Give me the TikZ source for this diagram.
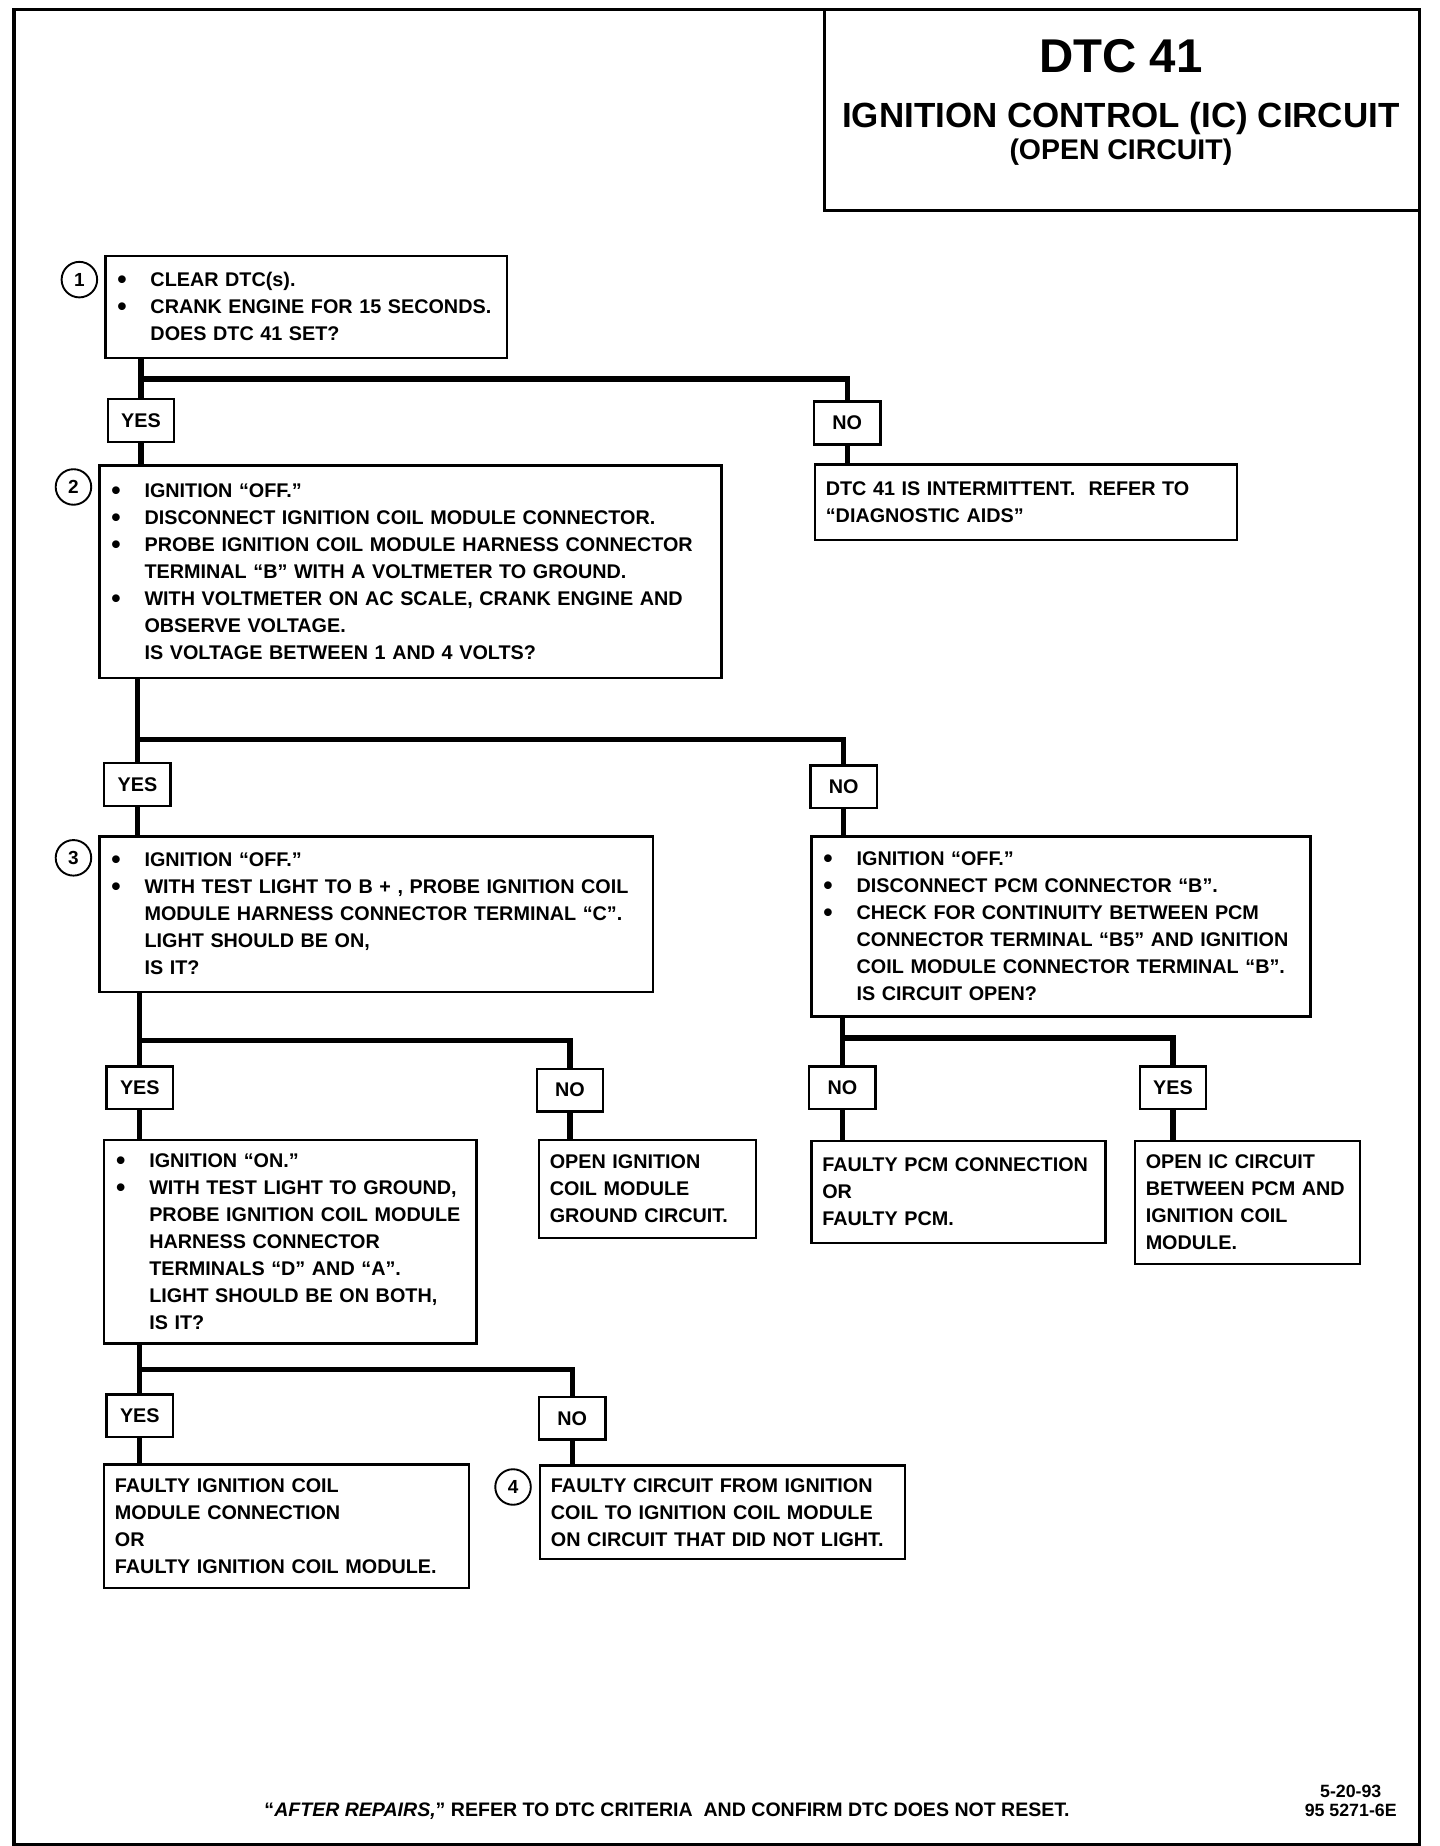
\documentclass[tikz,border=0pt]{standalone}
\usepackage{graphicx}
\usepackage{fontspec}
\setmainfont{Liberation Sans}
\newcommand\bodyfont{\fontsize{16.7}{22.8}\selectfont\bfseries}
\newcommand\bigbul{\raisebox{-0.08em}{\scalebox{1.35}{\textbullet}}}
\newcommand\bitem[1]{\mbox{\hspace*{1pt}\makebox[28pt][l]{\bigbul}#1}}
\newcommand\citem[1]{\mbox{\hspace*{29pt}#1}}
\newcommand\pl[1]{\mbox{#1}}
\begin{document}
\begin{tikzpicture}[x=1pt,y=-1pt,
  box/.style={draw, line width=2pt, anchor=north west, inner xsep=9pt, inner ysep=0pt, outer sep=0pt, align=left, font=\bodyfont},
  yn/.style={draw, line width=2pt, minimum width=56pt, minimum height=36pt, inner sep=0pt, outer sep=0pt, font=\bodyfont},
  num/.style={draw, circle, line width=1.6pt, minimum size=30pt, inner sep=0pt, font=\fontsize{16}{16}\selectfont\bfseries},
  conn/.style={line width=4.5pt, line join=miter}]
\useasboundingbox (0,0) rectangle (1215,1558);
% frame and title
\draw[line width=3pt] (12,8) rectangle (1198,1557);
\node[draw, line width=2.5pt, anchor=north west, minimum width=502pt, minimum height=170pt, inner sep=0pt, outer sep=0pt] (tbox) at (696,8) {};
\node[font=\fontsize{40}{40}\selectfont\bfseries] (t1) at (946,47) {DTC 41};
\node[font=\fontsize{29.5}{30}\selectfont\bfseries] (t2) at (946,100) {IGNITION CONTROL (IC) CIRCUIT};
\node[font=\fontsize{24}{24}\selectfont\bfseries] (t3) at (946,128) {(OPEN CIRCUIT)};
% boxes
\node[box, text width=321pt, minimum height=86pt] (box1) at (89,216) {\bitem{CLEAR DTC(s).}\\\bitem{CRANK ENGINE FOR 15 SECONDS.}\\\citem{DOES DTC 41 SET?}};
\node[box, text width=507pt, minimum height=179pt] (box2) at (84,393) {\bitem{IGNITION “OFF.”}\\\bitem{DISCONNECT IGNITION COIL MODULE CONNECTOR.}\\\bitem{PROBE IGNITION COIL MODULE HARNESS CONNECTOR}\\\citem{TERMINAL “B” WITH A VOLTMETER TO GROUND.}\\\bitem{WITH VOLTMETER ON AC SCALE, CRANK ENGINE AND}\\\citem{OBSERVE VOLTAGE.}\\\citem{IS VOLTAGE BETWEEN 1 AND 4 VOLTS?}};
\node[box, text width=338pt, minimum height=64pt] (boxi) at (688,392) {\pl{DTC 41 IS INTERMITTENT.\ \ REFER TO}\\\pl{“DIAGNOSTIC AIDS”}};
\node[box, text width=449pt, minimum height=131pt] (box3) at (84,706) {\bitem{IGNITION “OFF.”}\\\bitem{WITH TEST LIGHT TO B + , PROBE IGNITION COIL}\\\citem{MODULE HARNESS CONNECTOR TERMINAL “C”.}\\\citem{LIGHT SHOULD BE ON,}\\\citem{IS IT?}};
\node[box, text width=403pt, minimum height=152pt] (boxp) at (685,706) {\bitem{IGNITION “OFF.”}\\\bitem{DISCONNECT PCM CONNECTOR “B”.}\\\bitem{CHECK FOR CONTINUITY BETWEEN PCM}\\\citem{CONNECTOR TERMINAL “B5” AND IGNITION}\\\citem{COIL MODULE CONNECTOR TERMINAL “B”.}\\\citem{IS CIRCUIT OPEN?}};
\node[box, text width=296pt, minimum height=172pt] (box4) at (88,962) {\bitem{IGNITION “ON.”}\\\bitem{WITH TEST LIGHT TO GROUND,}\\\citem{PROBE IGNITION COIL MODULE}\\\citem{HARNESS CONNECTOR}\\\citem{TERMINALS “D” AND “A”.}\\\citem{LIGHT SHOULD BE ON BOTH,}\\\citem{IS IT?}};
\node[box, text width=165pt, minimum height=83pt] (boxg) at (455,962) {\pl{OPEN IGNITION}\\\pl{COIL MODULE}\\\pl{GROUND CIRCUIT.}};
\node[box, text width=230pt, minimum height=86pt] (boxf) at (685,963) {\pl{FAULTY PCM CONNECTION}\\\pl{OR}\\\pl{FAULTY PCM.}};
\node[box, text width=172pt, minimum height=104pt] (boxo) at (958,963) {\pl{OPEN IC CIRCUIT}\\\pl{BETWEEN PCM AND}\\\pl{IGNITION COIL}\\\pl{MODULE.}};
\node[box, text width=290pt, minimum height=104pt] (box5) at (88,1236) {\pl{FAULTY IGNITION COIL}\\\pl{MODULE CONNECTION}\\\pl{OR}\\\pl{FAULTY IGNITION COIL MODULE.}};
\node[box, text width=290pt, minimum height=79pt] (box6) at (456,1237) {\pl{FAULTY CIRCUIT FROM IGNITION}\\\pl{COIL TO IGNITION COIL MODULE}\\\pl{ON CIRCUIT THAT DID NOT LIGHT.}};
% step numbers
\node[num] (c1) at (67,236) {1};
\node[num] (c2) at (62,411) {2};
\node[num] (c3) at (62,724) {3};
\node[num] (c4) at (433,1255) {4};
% yes / no labels
\node[yn] (yes1) at (119,355) {YES};
\node[yn] (no1) at (715,357) {NO};
\node[yn] (yes2) at (116,662) {YES};
\node[yn] (no2) at (712,664) {NO};
\node[yn] (yes3) at (118,918) {YES};
\node[yn] (no3) at (481,920) {NO};
\node[yn] (no4) at (711,918) {NO};
\node[yn] (yes4) at (990,918) {YES};
\node[yn] (yes5) at (118,1195) {YES};
\node[yn] (no5) at (483,1197) {NO};
% junction levels
\coordinate (j1) at (0,320);
\coordinate (j2) at (0,624);
\coordinate (j3) at (0,878);
\coordinate (j4) at (0,876);
\coordinate (j5) at (0,1156);
% connectors
\draw[conn] (box1.south -| yes1) -- (yes1.north);
\draw[conn] (yes1.north |- j1) -| (no1.north);
\draw[conn] (yes1.south) -- (yes1 |- box2.north);
\draw[conn] (no1.south) -- (no1 |- boxi.north);
\draw[conn] (box2.south -| yes2) -- (yes2.north);
\draw[conn] (yes2.north |- j2) -| (no2.north);
\draw[conn] (yes2.south) -- (yes2 |- box3.north);
\draw[conn] (no2.south) -- (no2 |- boxp.north);
\draw[conn] (box3.south -| yes3) -- (yes3.north);
\draw[conn] (yes3.north |- j3) -| (no3.north);
\draw[conn] (yes3.south) -- (yes3 |- box4.north);
\draw[conn] (no3.south) -- (no3 |- boxg.north);
\draw[conn] (boxp.south -| no4) -- (no4.north);
\draw[conn] (no4.north |- j4) -| (yes4.north);
\draw[conn] (no4.south) -- (no4 |- boxf.north);
\draw[conn] (yes4.south) -- (yes4 |- boxo.north);
\draw[conn] (box4.south -| yes5) -- (yes5.north);
\draw[conn] (yes5.north |- j5) -| (no5.north);
\draw[conn] (yes5.south) -- (yes5 |- box5.north);
\draw[conn] (no5.south) -- (no5 |- box6.north);
% footer
\node[font=\fontsize{16.5}{18}\selectfont\bfseries] (foot) at (563,1529) {“\textit{AFTER REPAIRS,}” REFER TO DTC CRITERIA\ \ AND CONFIRM DTC DOES NOT RESET.};
\node[align=center, font=\fontsize{15}{16.5}\selectfont\bfseries] (code) at (1140,1520) {5-20-93\\95 5271-6E};
\end{tikzpicture}
\end{document}
